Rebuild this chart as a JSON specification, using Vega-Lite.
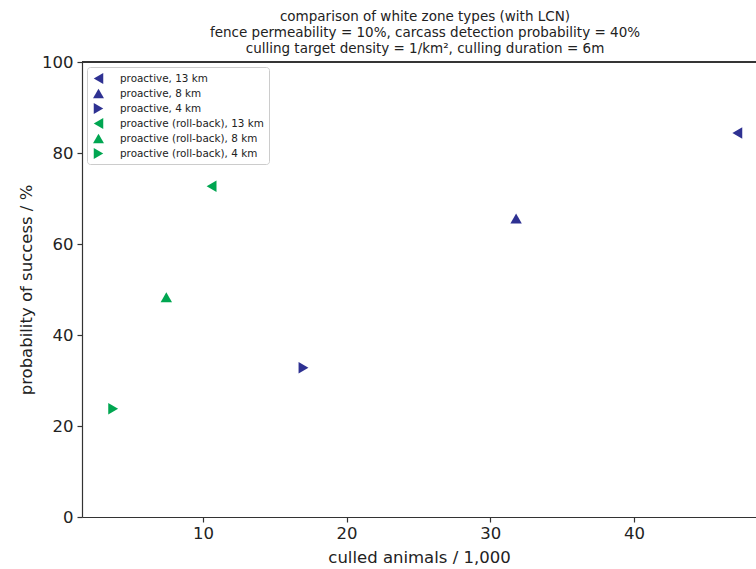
{
  "$schema": "https://vega.github.io/schema/vega-lite/v6.json",
  "width": 674,
  "height": 455,
  "autosize": "none",
  "padding": {"left": 82, "top": 62, "right": 0, "bottom": 52},
  "background": "white",
  "config": {
    "font": "DejaVu Sans",
    "view": {"stroke": null},
    "axis": {"grid": false, "domainColor": "#333333", "tickColor": "#333333", "labelColor": "#222222", "titleColor": "#222222", "labelFont": "DejaVu Sans", "titleFont": "DejaVu Sans", "titleFontWeight": "normal", "labelFontSize": 16.5, "titleFontSize": 16.5, "tickSize": 5, "domainWidth": 1.2, "tickWidth": 1.2}
  },
  "title": {
    "text": ["comparison of white zone types (with LCN)", "fence permeability = 10%, carcass detection probability = 40%", "culling target density = 1/km², culling duration = 6m"],
    "fontSize": 13.5,
    "fontWeight": "normal",
    "lineHeight": 16.3,
    "anchor": "middle",
    "dx": 6,
    "offset": -2,
    "color": "#222222"
  },
  "data": {
    "values": [
      {"series": "proactive, 13 km", "culled": 47.2, "success": 84.4},
      {"series": "proactive, 8 km", "culled": 31.8, "success": 65.6},
      {"series": "proactive, 4 km", "culled": 17.0, "success": 32.8},
      {"series": "proactive (roll-back), 13 km", "culled": 10.6, "success": 72.7},
      {"series": "proactive (roll-back), 8 km", "culled": 7.45, "success": 48.3},
      {"series": "proactive (roll-back), 4 km", "culled": 3.75, "success": 23.8}
    ]
  },
  "layer": [
    {
      "mark": {"type": "rule", "color": "#333333", "strokeWidth": 1.2},
      "encoding": {"y": {"datum": 100, "type": "quantitative", "scale": {"domain": [0, 100]}}}
    },
    {
      "mark": {"type": "point", "filled": true, "opacity": 1, "size": 130},
      "encoding": {
        "x": {"field": "culled", "type": "quantitative", "scale": {"domain": [1.58, 48.5], "nice": false, "zero": false}, "axis": {"values": [10, 20, 30, 40], "title": "culled animals / 1,000", "titlePadding": 8, "labelPadding": 3}},
        "y": {"field": "success", "type": "quantitative", "scale": {"domain": [0, 100], "nice": false}, "axis": {"values": [0, 20, 40, 60, 80, 100], "title": "probability of success / %", "titlePadding": 7, "labelPadding": 4}},
        "color": {
          "field": "series", "type": "nominal",
          "scale": {
            "domain": ["proactive, 13 km", "proactive, 8 km", "proactive, 4 km", "proactive (roll-back), 13 km", "proactive (roll-back), 8 km", "proactive (roll-back), 4 km"],
            "range": ["#2e3192", "#2e3192", "#2e3192", "#00a651", "#00a651", "#00a651"]
          },
          "legend": {"title": null, "orient": "top-left", "offset": 5, "labelFontSize": 10.4, "labelColor": "#222222", "symbolSize": 120, "labelOffset": 15, "rowPadding": 3, "padding": 5, "fillColor": "white", "strokeColor": "#cccccc", "cornerRadius": 3, "labelLimit": 300}
        },
        "shape": {
          "field": "series", "type": "nominal",
          "scale": {
            "domain": ["proactive, 13 km", "proactive, 8 km", "proactive, 4 km", "proactive (roll-back), 13 km", "proactive (roll-back), 8 km", "proactive (roll-back), 4 km"],
            "range": ["triangle-left", "triangle-up", "triangle-right", "triangle-left", "triangle-up", "triangle-right"]
          },
          "legend": {"title": null, "orient": "top-left", "offset": 5, "labelFontSize": 10.4, "labelColor": "#222222", "symbolSize": 120, "labelOffset": 15, "rowPadding": 3, "padding": 5, "fillColor": "white", "strokeColor": "#cccccc", "cornerRadius": 3, "labelLimit": 300}
        }
      }
    }
  ]
}
